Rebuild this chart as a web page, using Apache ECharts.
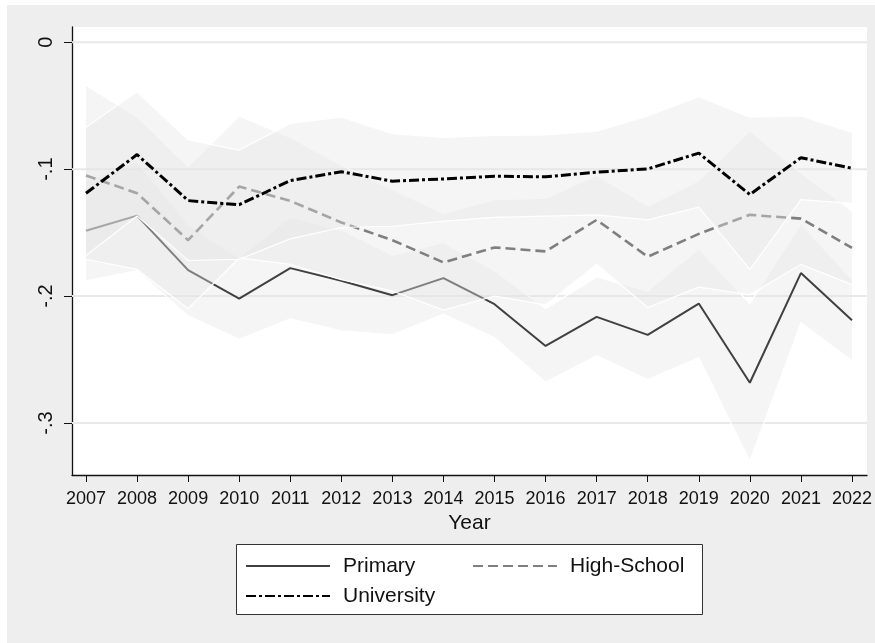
<!DOCTYPE html>
<html>
<head>
<meta charset="utf-8">
<script src="https://cdn.jsdelivr.net/npm/echarts@6/dist/echarts.min.js"></script>
<style>
html,body{margin:0;padding:0;background:#fff;}
#chart{width:875px;height:643px;}
</style>
</head>
<body>
<div id="chart"></div>
<script>
// ---- data ----
var years = [2007,2008,2009,2010,2011,2012,2013,2014,2015,2016,2017,2018,2019,2020,2021,2022];
var yTicks = [-0.3,-0.2,-0.1,0];

var primary   = [-0.1485,-0.1366,-0.1796,-0.202,-0.178,-0.188,-0.1993,-0.1859,-0.2064,-0.2393,-0.2164,-0.2306,-0.2059,-0.2683,-0.1819,-0.219];
var primaryLo = [-0.188,-0.180,-0.2156,-0.234,-0.218,-0.2275,-0.2306,-0.2143,-0.2328,-0.268,-0.247,-0.2657,-0.2486,-0.330,-0.221,-0.251];
var primaryHi = [-0.109,-0.094,-0.144,-0.170,-0.138,-0.148,-0.168,-0.158,-0.180,-0.210,-0.185,-0.196,-0.163,-0.206,-0.143,-0.187];

var highSchool   = [-0.105,-0.119,-0.156,-0.1137,-0.125,-0.142,-0.156,-0.1735,-0.1617,-0.1648,-0.140,-0.169,-0.151,-0.136,-0.139,-0.162];
var highSchoolLo = [-0.171,-0.179,-0.210,-0.170,-0.175,-0.187,-0.196,-0.211,-0.200,-0.207,-0.175,-0.209,-0.193,-0.199,-0.175,-0.191];
var highSchoolHi = [-0.034,-0.059,-0.098,-0.058,-0.075,-0.097,-0.116,-0.135,-0.124,-0.123,-0.105,-0.129,-0.109,-0.070,-0.103,-0.133];

var university   = [-0.119,-0.0885,-0.1248,-0.128,-0.109,-0.102,-0.1095,-0.1077,-0.1056,-0.106,-0.1024,-0.0998,-0.0874,-0.120,-0.091,-0.0993];
var universityLo = [-0.168,-0.137,-0.172,-0.171,-0.155,-0.146,-0.145,-0.141,-0.138,-0.137,-0.136,-0.140,-0.130,-0.179,-0.124,-0.127];
var universityHi = [-0.067,-0.039,-0.077,-0.085,-0.064,-0.059,-0.072,-0.075,-0.0735,-0.073,-0.070,-0.058,-0.043,-0.059,-0.058,-0.071];

// ---- chart ----
var FONT = "'Liberation Sans', Arial, sans-serif";
var X_MIN = 2006.726, X_MAX = 2022.294;
var Y_MIN = -0.341, Y_MAX = 0.012;
var BAND_FILL = 'rgba(228,228,228,0.38)';

function pairs(vals){ return years.map(function(y,i){ return [y, vals[i]]; }); }

function bandSeries(name, lo, hi, z){
  return {
    type: 'custom', name: name, z: z, silent: true,
    data: years.map(function(y,i){ return [y, lo[i], hi[i]]; }),
    encode: {x: 0, y: [1,2]},
    renderItem: function(params, api){
      if (params.dataIndex !== 0) return null;
      var top = years.map(function(y,i){ return api.coord([y, hi[i]]); });
      var bot = years.map(function(y,i){ return api.coord([y, lo[i]]); });
      var poly = top.concat(bot.slice().reverse());
      return {type:'group', children:[
        {type:'polygon', shape:{points: poly}, style:{fill: BAND_FILL, stroke: null}},
        {type:'polyline', shape:{points: top}, style:{stroke:'#ffffff', lineWidth:1.2, fill:null}},
        {type:'polyline', shape:{points: bot}, style:{stroke:'#ffffff', lineWidth:1.2, fill:null}}
      ]};
    }
  };
}

var chart = echarts.init(document.getElementById('chart'), null, {renderer:'canvas'});
var legendCommon = {
  orient: 'horizontal', itemWidth: 84, itemHeight: 14, padding: 0,
  textStyle: {fontFamily: FONT, fontSize: 21, color: '#111', lineHeight: 24, padding: [0,0,0,8]},
  itemStyle: {color: 'transparent', borderWidth: 0, opacity: 0},
  lineStyle: {width: 2},
  selectedMode: false
};
var option = {
  backgroundColor: '#eeeeee',
  animation: false,
  graphic: [
    {type:'rect', shape:{x:0,y:0,width:7,height:643}, style:{fill:'#ffffff'}, z: 0},
    {type:'rect', shape:{x:0,y:0,width:875,height:5}, style:{fill:'#ffffff'}, z: 0},
    {type:'rect', shape:{x:236.5,y:544.5,width:466,height:70}, style:{fill:'#ffffff', stroke:'#333333', lineWidth:1}, z: 1}
  ],
  grid: {left: 72, right: 8, top: 27, bottom: 168, show: true, backgroundColor: '#ffffff', borderWidth: 0},
  xAxis: {
    type: 'value', min: X_MIN, max: X_MAX,
    name: 'Year', nameLocation: 'middle', nameGap: 33,
    nameTextStyle: {fontFamily: FONT, fontSize: 21, color: '#111'},
    axisLine: {show: true, onZero: false, lineStyle: {color: '#111', width: 1.3}},
    axisTick: {show: true, length: 7, customValues: years, lineStyle: {color: '#111', width: 1}},
    axisLabel: {customValues: years, margin: 15, fontFamily: FONT, fontSize: 18, color: '#111',
      formatter: function(v){ return String(Math.round(v)); }},
    splitLine: {show: false}
  },
  yAxis: {
    type: 'value', min: Y_MIN, max: Y_MAX,
    axisLine: {show: true, onZero: false, lineStyle: {color: '#111', width: 1.3}},
    axisTick: {show: true, length: 8, customValues: yTicks, lineStyle: {color: '#111', width: 1}},
    axisLabel: {customValues: yTicks, rotate: 90, margin: 16, fontFamily: FONT, fontSize: 20, color: '#111',
      formatter: function(v){ if (Math.abs(v) < 1e-9) return '0'; return v.toFixed(1).replace('0.', '.'); }},
    splitLine: {show: false}
  },
  legend: [
    Object.assign({}, legendCommon, {data: ['Primary'], left: 245, top: 554}),
    Object.assign({}, legendCommon, {data: ['High-School'], left: 472, top: 554}),
    Object.assign({}, legendCommon, {data: ['University'], left: 245, top: 584})
  ],
  series: [
    {
      type: 'custom', name: 'gridlines', z: 1, silent: true,
      data: yTicks.map(function(v){ return [X_MIN, v]; }),
      encode: {x: 0, y: 1},
      renderItem: function(params, api){
        var cs = params.coordSys;
        var p = api.coord([X_MIN, api.value(1)]);
        return {type:'line', shape:{x1: cs.x, y1: p[1], x2: cs.x + cs.width, y2: p[1]},
          style:{stroke:'#e9e9e9', lineWidth: 2}};
      }
    },
    bandSeries('bandPrimary', primaryLo, primaryHi, 2),
    {type:'line', name:'Primary', z: 3, data: pairs(primary), symbol:'none', silent: true,
      lineStyle:{color:'#404040', width: 2, type:'solid'}, itemStyle:{color:'#404040'}},
    bandSeries('bandHigh', highSchoolLo, highSchoolHi, 4),
    {type:'line', name:'High-School', z: 5, data: pairs(highSchool), symbol:'none', silent: true,
      lineStyle:{color:'#7f7f7f', width: 2.6, type:[10,5], cap:'butt'}, itemStyle:{color:'#7f7f7f'}},
    bandSeries('bandUniv', universityLo, universityHi, 6),
    {type:'line', name:'University', z: 7, data: pairs(university), symbol:'none', silent: true,
      lineStyle:{color:'#000000', width: 3, type:[10,3,3,3], cap:'butt'}, itemStyle:{color:'#000000'}}
  ]
};
chart.setOption(option);
</script>
</body>
</html>
